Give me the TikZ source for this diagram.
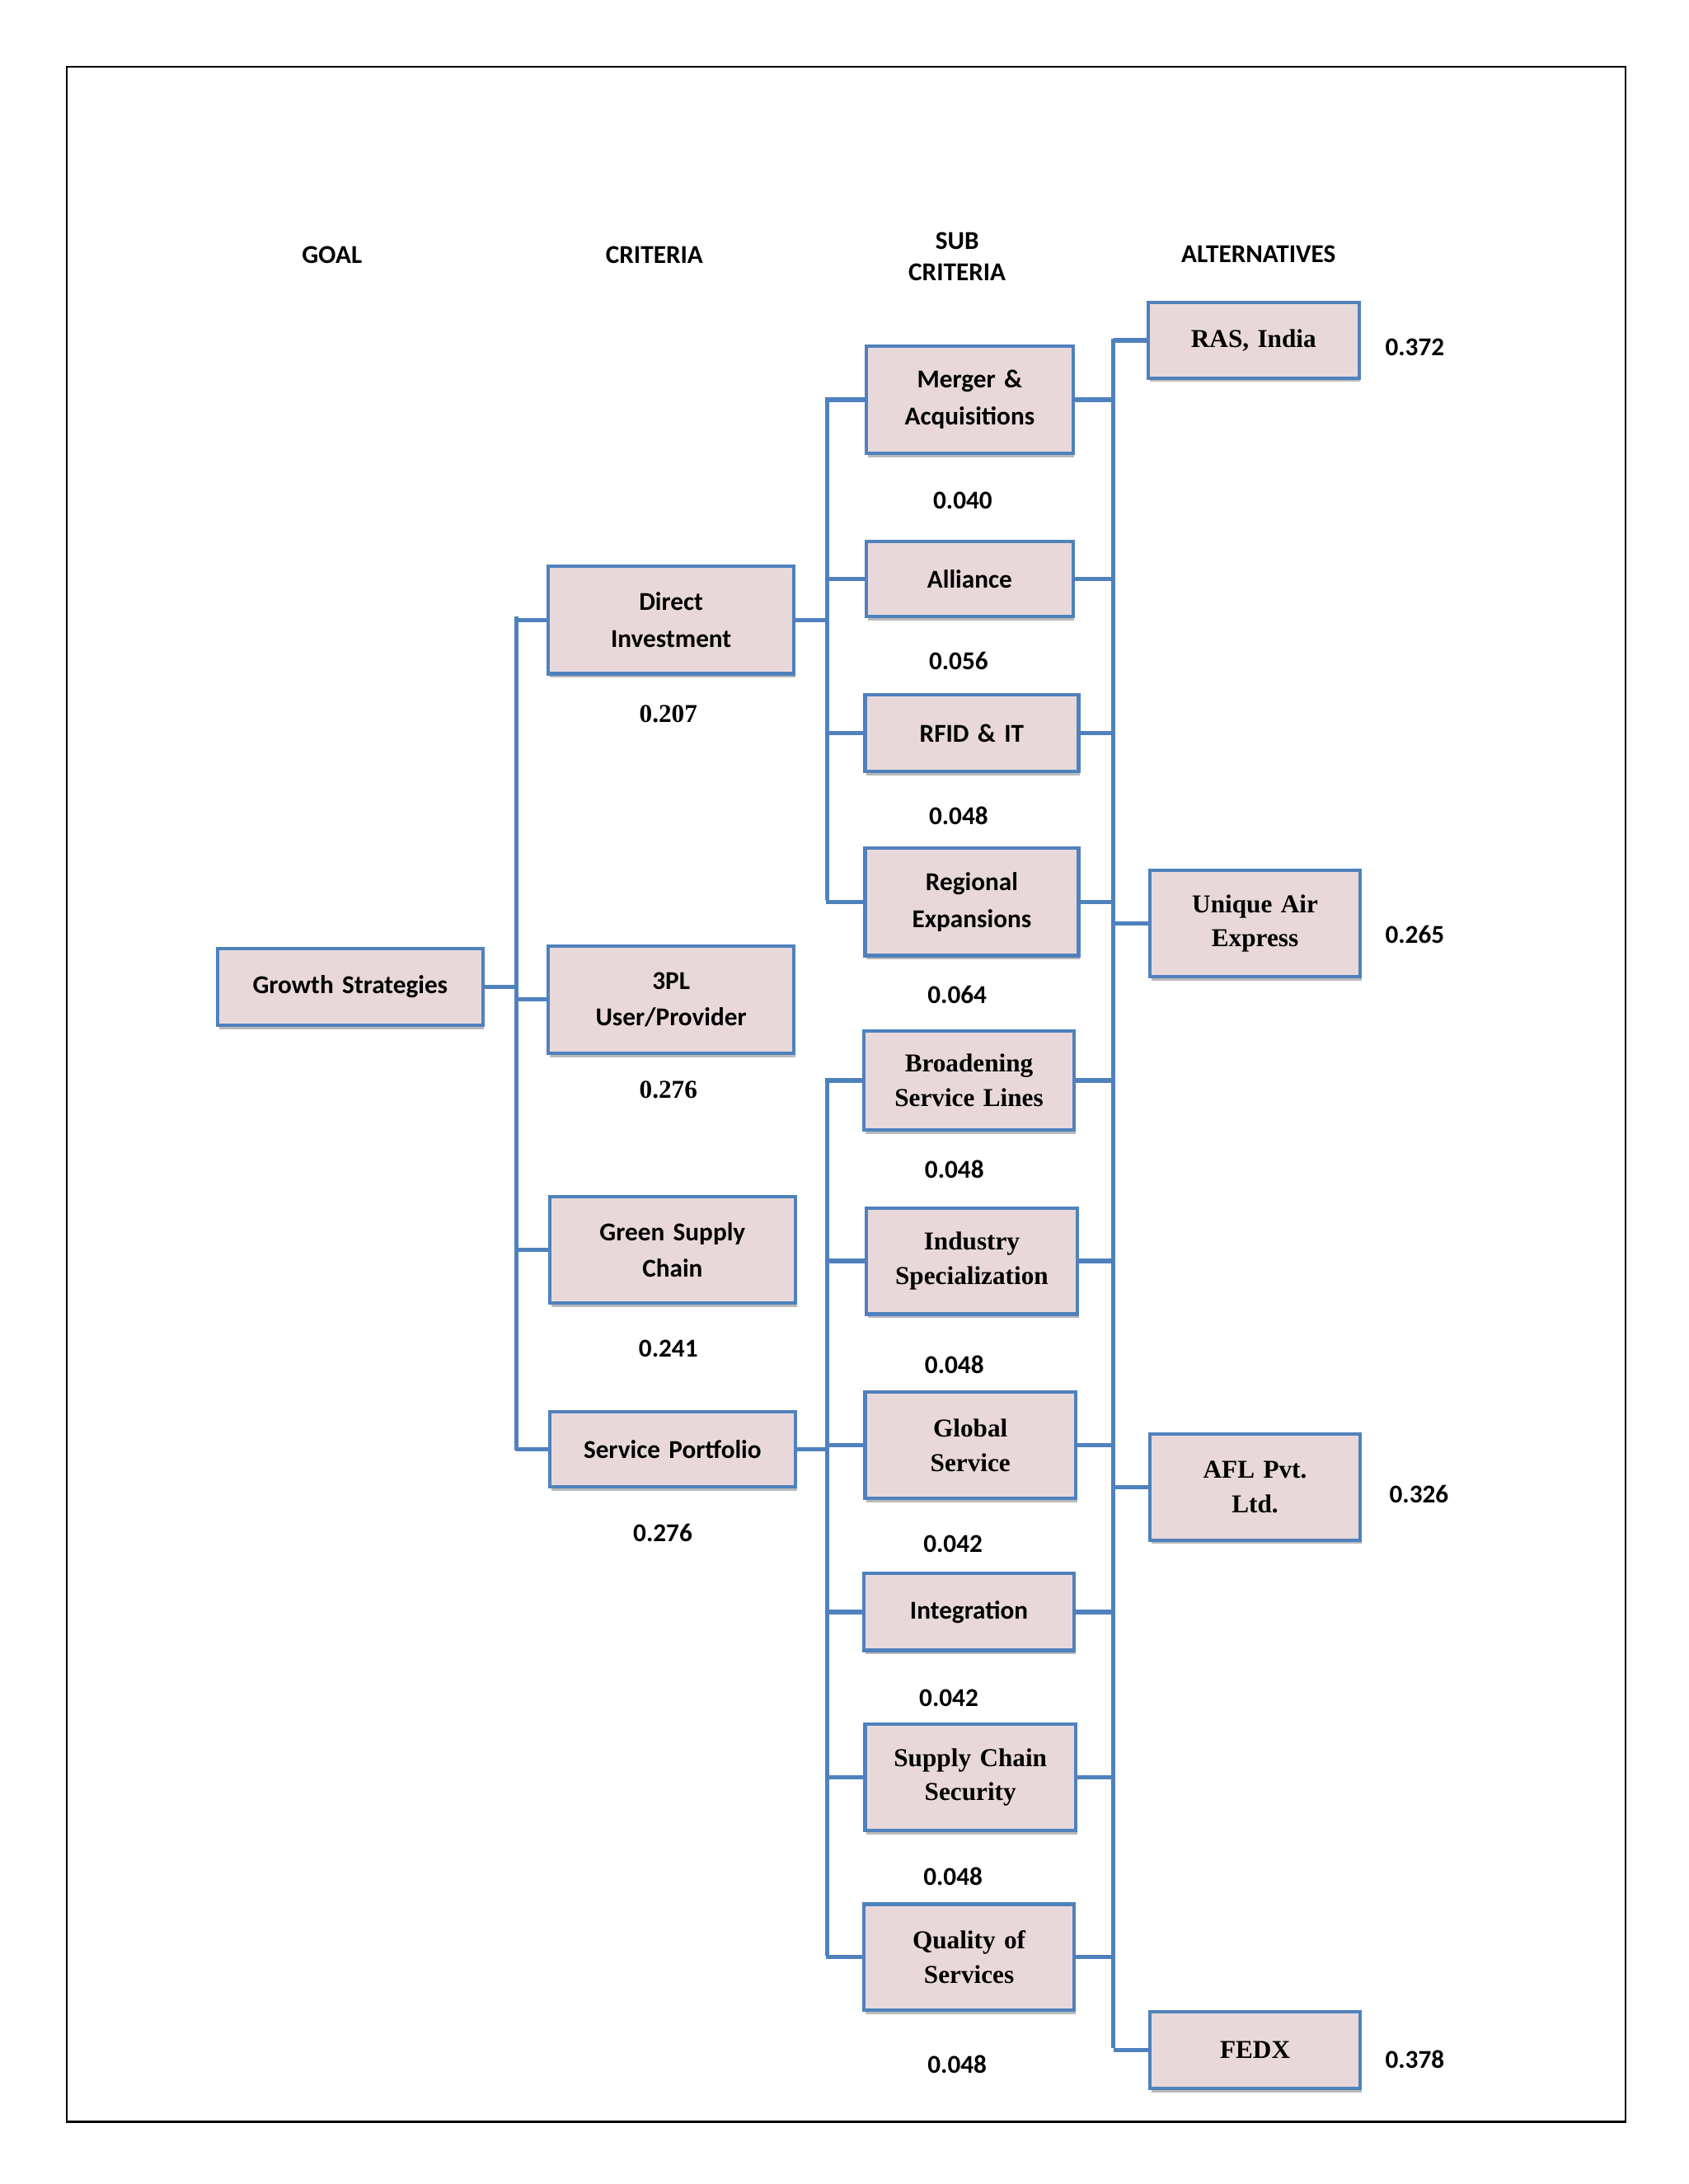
\documentclass[tikz,border=0pt]{standalone}
\usepackage{fontspec}
\setmainfont{Liberation Serif}
\newfontfamily\carl{Carlito}
\usetikzlibrary{shadows}
\definecolor{bl}{HTML}{4F81BD}
\definecolor{pk}{HTML}{E8D8DA}
\begin{document}
\begin{tikzpicture}[x=0.02cm,y=-0.02cm,
 box/.style={draw=bl,line width=1.4pt,fill=pk,align=center,inner sep=1pt,
   drop shadow={shadow xshift=0.6pt,shadow yshift=-1.6pt,fill=gray!55,opacity=1}},
 conn/.style={draw=bl,line width=1.8pt},
 sf/.style={font=\carl\bfseries\fontsize{10.5}{15}\selectfont},
 rm/.style={font=\bfseries\fontsize{10.5}{14}\selectfont},
 val/.style={font=\carl\bfseries\fontsize{10.5}{13}\selectfont}]
\useasboundingbox (0,0) rectangle (1210,1565.6);
\draw[line width=0.8pt] (48,48) rectangle (1165,1521);
\newcommand\bx[7]{%
 \pgfmathsetmacro\cx{(#2+#4)/2}\pgfmathsetmacro\cy{(#3+#5)/2}%
 \pgfmathsetmacro\ww{(#4-#2)*0.02}\pgfmathsetmacro\hh{(#5-#3)*0.02}%
 \node[box,#7,minimum width=\ww cm,minimum height=\hh cm,text width=\ww cm-4pt] (#1) at (\cx,\cy) {#6};}
% headers
\node[val] (h1) at (238,183) {GOAL};
\node[val] (h2) at (469,183) {CRITERIA};
\node[val,align=center] (h3) at (686,184) {SUB\\CRITERIA};
\node[val] (h4) at (902,182) {ALTERNATIVES};
% goal & criteria
\bx{gs}{156}{680}{346}{735}{Growth Strategies}{sf}
\bx{di}{393}{406}{569}{483}{Direct\\Investment}{sf}
\bx{tp}{393}{678}{569}{755}{3PL\\User/Provider}{sf}
\bx{gc}{394}{858}{570}{934}{Green Supply\\Chain}{sf}
\bx{sp}{394}{1012}{570}{1066}{Service Portfolio}{sf}
% subcriteria
\bx{s1}{621}{248}{769}{325}{Merger \&\\Acquisitions}{sf}
\bx{s2}{621}{388}{769}{442}{Alliance}{sf}
\bx{s3}{620}{498}{773}{553}{RFID \& IT}{sf}
\bx{s4}{620}{608}{773}{685}{Regional\\Expansions}{sf}
\bx{s5}{619}{739}{770}{810}{Broadening\\Service Lines}{rm}
\bx{s6}{621}{866}{772}{942}{Industry\\Specialization}{rm}
\bx{s7}{620}{998}{771}{1074}{Global\\Service}{rm}
\bx{s8}{619}{1128}{770}{1183}{Integration}{sf}
\bx{s9}{620}{1236}{771}{1312}{Supply Chain\\Security}{rm}
\bx{s10}{619}{1365}{770}{1441}{Quality of\\Services}{rm}
% alternatives
\bx{a1}{823}{217}{974}{271}{RAS, India}{rm}
\bx{a2}{824}{624}{975}{700}{Unique Air\\Express}{rm}
\bx{a3}{824}{1028}{975}{1104}{AFL Pvt.\\Ltd.}{rm}
\bx{a4}{824}{1442}{975}{1497}{FEDX}{rm}
% values
\node[rm] (v0) at (479,512) {0.207};
\node[rm] (v1) at (479,781) {0.276};
\node[val] (v2) at (479,967) {0.241};
\node[val] (v3) at (475,1099) {0.276};
\node[val] (w1) at (690,359) {0.040};
\node[val] (w2) at (687,474) {0.056};
\node[val] (w3) at (687,585) {0.048};
\node[val] (w4) at (686,713) {0.064};
\node[val] (w5) at (684,838) {0.048};
\node[val] (w6) at (684,978) {0.048};
\node[val] (w7) at (683,1107) {0.042};
\node[val] (w8) at (680,1217) {0.042};
\node[val] (w9) at (683,1345) {0.048};
\node[val] (w10) at (686,1480) {0.048};
\node[val] (x1) at (1014,249) {0.372};
\node[val] (x2) at (1014,670) {0.265};
\node[val] (x3) at (1017,1071) {0.326};
\node[val] (x4) at (1014,1476) {0.378};
% goal -> criteria
\draw[conn] (gs.east) -- ++(24,0);
\draw[conn] (370,442) -- (370,1040);
\foreach \n in {di,tp,gc,sp} \draw[conn] (\n.west) -- ++(-23,0);
% criteria -> subcriteria
\draw[conn] (di.east) -- ++(24,0);
\draw[conn] (593,285) -- (593,645);
\foreach \n in {s1,s2,s3,s4} \draw[conn] (\n.west) -- ++(-27,0);
\draw[conn] (sp.east) -- ++(23,0);
\draw[conn] (593,773) -- (593,1402);
\foreach \n in {s5,s6,s7,s8,s9,s10} \draw[conn] (\n.west) -- ++(-26,0);
% subcriteria -> alternatives
\draw[conn] (798,243) -- (798,1468);
\foreach \n in {s1,s2,s3,s4,s5,s6,s7,s8,s9,s10} \draw[conn] (\n.east) -- (798,0 |- \n.east);
\foreach \n in {a1,a2,a3,a4} \draw[conn] (\n.west) -- (798,0 |- \n.west);
\end{tikzpicture}
\end{document}
